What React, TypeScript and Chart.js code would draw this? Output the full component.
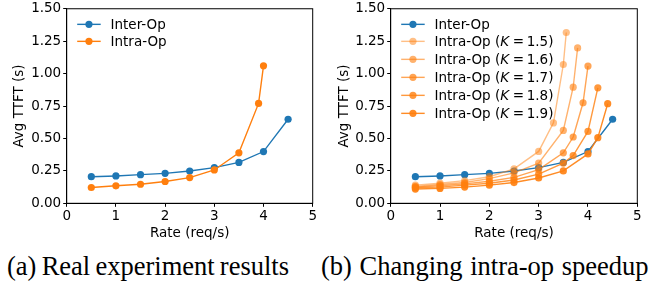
import React, { useEffect, useRef } from "react";
import { Chart, registerables } from "chart.js";
Chart.register(...registerables);

// ---- data ----
const interRates = [0.5, 1, 1.5, 2, 2.5, 3, 3.5, 4, 4.5];
const interOp = [0.205, 0.211, 0.221, 0.231, 0.249, 0.275, 0.315, 0.399, 0.648];

const intraRates = [0.5, 1, 1.5, 2, 2.5, 3, 3.5, 3.9, 4.0];
const intraOp = [0.122, 0.135, 0.147, 0.168, 0.198, 0.257, 0.389, 0.77, 1.06];

const kLabels = ["1.5", "1.6", "1.7", "1.8", "1.9"];
const kAlphas = [0.5, 0.6, 0.7, 0.8, 0.9];
const k15Rates = [0.5, 1, 1.5, 2, 2.5, 3, 3.3, 3.5, 3.56];
const k15 = [0.14, 0.155, 0.175, 0.205, 0.265, 0.4, 0.62, 1.07, 1.317];
const k16Rates = [0.5, 1, 1.5, 2, 2.5, 3, 3.5, 3.7, 3.79];
const k16 = [0.13, 0.145, 0.16, 0.19, 0.235, 0.31, 0.562, 0.895, 1.198];
const k17Rates = [0.5, 1, 1.5, 2, 2.5, 3, 3.5, 3.7, 3.9, 4.0];
const k17 = [0.125, 0.135, 0.15, 0.17, 0.2, 0.26, 0.389, 0.511, 0.775, 1.058];
const k18Rates = [0.5, 1, 1.5, 2, 2.5, 3, 3.5, 3.7, 4.0, 4.2];
const k18 = [0.12, 0.125, 0.14, 0.155, 0.18, 0.225, 0.31, 0.368, 0.554, 0.89];
const k19Rates = [0.5, 1, 1.5, 2, 2.5, 3, 3.5, 4.0, 4.2, 4.4];
const k19 = [0.11, 0.115, 0.125, 0.14, 0.16, 0.195, 0.25, 0.381, 0.506, 0.768];

const xTicks = [0, 1, 2, 3, 4, 5];
const yTicks = [0, 0.25, 0.5, 0.75, 1.0, 1.25, 1.5];

const captionA = "(a) Real experiment results";
const captionB = "(b) Changing intra-op speedup";

const BLUE = "#1f77b4";
const orange = (a: number) => `rgba(255,127,14,${a})`;
const FONT = "'DejaVu Sans', sans-serif";

const pts = (xs: number[], ys: number[]) => xs.map((x, i) => ({ x, y: ys[i] }));

function ds(label: string, xs: number[], ys: number[], color: string, order: number, kval?: string) {
  return {
    label,
    kval,
    data: pts(xs, ys),
    borderColor: color,
    backgroundColor: color,
    pointBackgroundColor: color,
    pointBorderWidth: 0,
    pointRadius: 3.6,
    borderWidth: 1.4,
    order,
    tension: 0,
  } as any;
}

const framePlugin = {
  id: "frame",
  afterDraw(chart: any) {
    const { ctx, chartArea: a } = chart;
    ctx.save();
    ctx.strokeStyle = "#000";
    ctx.lineWidth = 1;
    ctx.strokeRect(a.left, a.top, a.right - a.left, a.bottom - a.top);
    ctx.restore();
  },
};

const legendPlugin = {
  id: "mplLegend",
  afterDatasetsDraw(chart: any) {
    const { ctx, chartArea: a } = chart;
    const x0 = a.left + 10.5;
    let y = a.top + 15.6;
    ctx.save();
    chart.data.datasets.forEach((d: any) => {
      const c = d.borderColor;
      ctx.strokeStyle = c;
      ctx.lineWidth = 1.4;
      ctx.beginPath();
      ctx.moveTo(x0, y);
      ctx.lineTo(x0 + 23.5, y);
      ctx.stroke();
      ctx.fillStyle = c;
      ctx.beginPath();
      ctx.arc(x0 + 11.75, y, 3.6, 0, Math.PI * 2);
      ctx.fill();
      ctx.fillStyle = "#000";
      ctx.textBaseline = "alphabetic";
      ctx.textAlign = "left";
      let tx = x0 + 33.3;
      const by = y + 4.9;
      if (d.kval) {
        ctx.font = `13.5px ${FONT}`;
        const p1 = "Intra-Op (";
        ctx.fillText(p1, tx, by);
        tx += ctx.measureText(p1).width;
        ctx.font = `italic 13.5px ${FONT}`;
        ctx.fillText("K", tx, by);
        tx += ctx.measureText("K").width + 1;
        ctx.font = `13.5px ${FONT}`;
        const p2 = `\u2009=\u2009${d.kval})`;
        ctx.fillText(p2, tx, by);
        y += 18;
      } else {
        ctx.font = `13.5px ${FONT}`;
        ctx.fillText(d.label, tx, by);
        y += 17;
      }
    });
    ctx.restore();
  },
};

function makeOptions(yAxisWidth: number, rightPad: number, canvasH: number, yTitlePad: number) {
  return {
    responsive: false,
    animation: false,
    layout: { padding: { top: 6.7, right: rightPad, left: 0, bottom: 0 } },
    plugins: { legend: { display: false }, tooltip: { enabled: false } },
    scales: {
      x: {
        type: "linear",
        min: 0,
        max: 5,
        afterBuildTicks: (s: any) => {
          s.ticks = xTicks.map((v) => ({ value: v }));
        },
        afterFit: (s: any) => {
          s.height = canvasH - 203.3;
        },
        ticks: {
          color: "#000",
          font: { family: FONT, size: 13.5 },
          padding: 1.5,
          maxRotation: 0,
          callback: (v: number) => String(v),
        },
        grid: { drawOnChartArea: false, drawTicks: true, tickLength: 3.5, color: "#000", tickWidth: 1 },
        border: { display: true, color: "#000", width: 1 },
        title: {
          display: true,
          text: "Rate (req/s)",
          color: "#000",
          font: { family: FONT, size: 13.5 },
          padding: { top: 0, bottom: 0 },
        },
      },
      y: {
        type: "linear",
        min: 0,
        max: 1.5,
        afterBuildTicks: (s: any) => {
          s.ticks = yTicks.map((v) => ({ value: v }));
        },
        afterFit: (s: any) => {
          s.width = yAxisWidth;
        },
        ticks: {
          color: "#000",
          font: { family: FONT, size: 13.5, lineHeight: 1 },
          padding: 2,
          callback: (v: number) => v.toFixed(2),
        },
        grid: { drawOnChartArea: false, drawTicks: true, tickLength: 3.5, color: "#000", tickWidth: 1 },
        border: { display: true, color: "#000", width: 1 },
        title: {
          display: true,
          text: "Avg TTFT (s)",
          color: "#000",
          font: { family: FONT, size: 13.5 },
          padding: { top: yTitlePad, bottom: 0 },
        },
      },
    },
  } as any;
}

const CH = 242;

function ChartCanvas({ datasets, yAxisWidth, rightPad, width, yTitlePad }: any) {
  const ref = useRef<HTMLCanvasElement | null>(null);
  useEffect(() => {
    if (!ref.current) return;
    const chart = new Chart(ref.current, {
      type: "line",
      data: { datasets },
      options: makeOptions(yAxisWidth, rightPad, CH, yTitlePad),
      plugins: [legendPlugin, framePlugin],
    } as any);
    return () => chart.destroy();
  }, []);
  return <canvas ref={ref} width={width} height={CH} style={{ width, height: CH, display: "block" }} />;
}

export default function App() {
  const dsA = [
    ds("Inter-Op", interRates, interOp, BLUE, 10),
    ds("Intra-Op", intraRates, intraOp, orange(1), 1),
  ];
  const kSets = [
    [k15Rates, k15],
    [k16Rates, k16],
    [k17Rates, k17],
    [k18Rates, k18],
    [k19Rates, k19],
  ];
  const dsB = [
    ds("Inter-Op", interRates, interOp, BLUE, 10),
    ...kSets.map(([xs, ys], i) =>
      ds(`Intra-Op (K = ${kLabels[i]})`, xs, ys, orange(kAlphas[i]), 5 - i, kLabels[i])
    ),
  ];
  const capStyle: any = {
    position: "absolute",
    top: 250,
    fontFamily: "'Liberation Serif', 'Times New Roman', serif",
    fontSize: 26.5,
    lineHeight: "32px",
    color: "#000",
    whiteSpace: "nowrap",
  };
  return (
    <div style={{ position: "absolute", left: 0, top: 0, width: 655, height: 287, background: "#fff", overflow: "hidden" }}>
      <div style={{ position: "absolute", left: 0, top: 0 }}>
        <ChartCanvas datasets={dsA} yAxisWidth={66.7} rightPad={14.3} width={327} yTitlePad={11} />
      </div>
      <div style={{ position: "absolute", left: 327, top: 0 }}>
        <ChartCanvas datasets={dsB} yAxisWidth={63.7} rightPad={17.7} width={328} yTitlePad={9} />
      </div>
      <div style={{ ...capStyle, left: 7, wordSpacing: "-1.4px" }}>{captionA}</div>
      <div style={{ ...capStyle, left: 321, wordSpacing: "1px" }}>{captionB}</div>
    </div>
  );
}
